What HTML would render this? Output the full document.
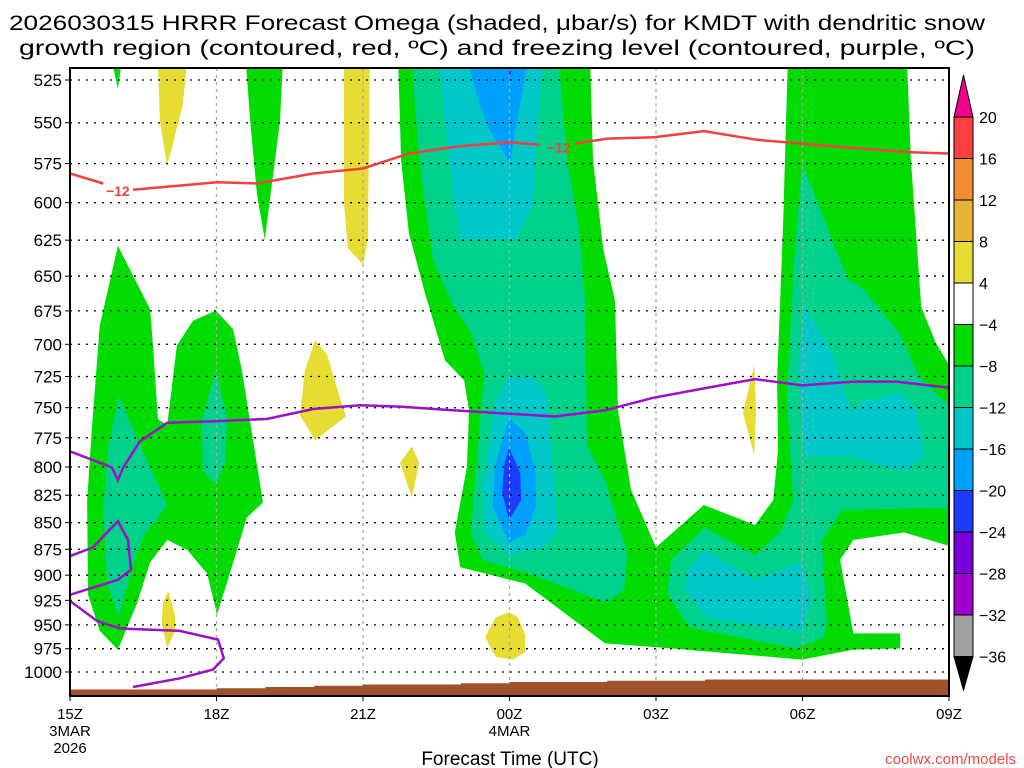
<!DOCTYPE html>
<html><head><meta charset="utf-8"><style>
html,body{margin:0;padding:0;background:#fff;}
svg{display:block;font-family:"Liberation Sans",sans-serif;}
</style></head><body>
<svg id="chart" width="1024" height="768" viewBox="0 0 1024 768" xmlns="http://www.w3.org/2000/svg">
<text x="497" y="30" font-size="21" text-anchor="middle" textLength="976" lengthAdjust="spacingAndGlyphs">2026030315 HRRR Forecast Omega (shaded, μbar/s) for KMDT with dendritic snow</text>
<text x="497" y="55" font-size="21" text-anchor="middle" textLength="956" lengthAdjust="spacingAndGlyphs">growth region (contoured, red, ºC) and freezing level (contoured, purple, ºC)</text>
<defs><clipPath id="plotclip"><rect x="70" y="68" width="879" height="628"/></clipPath></defs>
<g id="plot" clip-path="url(#plotclip)"></g>
<g id="axes"></g>
<g id="colorbar"></g>
<text x="510" y="765" font-size="19" text-anchor="middle">Forecast Time (UTC)</text>
<text x="1016" y="764" font-size="15" text-anchor="end" fill="#f04848">coolwx.com/models</text>
</svg>
<script>
// ---- data (hour since 15Z; vertical coordinate in "linear-estimate" hPa, mapped to true hPa below) ----
const pressureTicks = [525,550,575,600,625,650,675,700,725,750,775,800,825,850,875,900,925,950,975,1000];
const hourTicks = [0,3,6,9,12,15,18];
const hourLabels = ["15Z","18Z","21Z","00Z","03Z","06Z","09Z"];
const dateLabels = {0:["3MAR","2026"],9:["4MAR"]};
const levelValues = [20,16,12,8,4,-4,-8,-12,-16,-20,-24,-28,-32,-36];
const levelColors = ["#fa4040","#f08c32","#e6b432","#e6dc32","#ffffff","#00dc00","#00d28c","#00c8c8","#00a0ff","#1e3cff","#7800dc","#a000c8","#a0a0a0"];
const surfacePressure = [1014,1014,1014,1013,1012,1011,1010,1010,1009,1008,1008,1007,1007,1006,1006,1006,1006,1006,1006];
const greenLeft = [[0.98,658],[1.64,709],[1.70,738],[1.80,797],[1.99,802],[2.19,738],[2.52,718],[2.99,710],[3.34,725],[3.52,758],[3.89,849],[3.95,864],[3.62,876],[3.42,902],[3.01,954],[2.81,921],[2.40,902],[1.99,894],[1.64,912],[1.37,945],[0.98,982],[0.61,967],[0.37,938],[0.35,863],[0.45,803],[0.61,722]];
const tealLeft = [[1.00,779],[1.99,866],[1.49,892],[1.27,915],[1.00,956],[0.76,928],[0.68,869],[0.78,820]];
const teal18z = [[2.99,758],[3.22,797],[3.17,833],[2.99,849],[2.72,839],[2.70,797]];
const yellowTopLeft = [[1.80,510],[2.40,510],[2.31,545],[1.99,594],[1.84,558]];
const greenSpike1 = [[0.86,510],[1.06,510],[0.98,532]];
const greenSpike19z = [[3.60,510],[4.36,510],[4.30,558],[3.99,653],[3.83,617],[3.69,558]];
const yellow21z = [[5.61,510],[6.14,510],[6.10,653],[6.00,673],[5.69,660],[5.61,624]];
const yellow20z = [[5.02,734],[5.26,745],[5.49,775],[5.65,795],[5.02,814],[4.71,794],[4.81,758]];
const yellowSmallLeft = [[2.01,935],[2.15,954],[2.15,967],[1.99,981],[1.88,961],[1.90,945]];
const greenMain = [[6.72,510],[6.78,589],[6.94,648],[7.27,696],[7.68,750],[8.07,766],[8.17,790],[8.13,835],[7.88,888],[7.99,916],[9.32,929],[10.96,977],[12.00,980],[14.99,990],[16.04,982],[17.00,981],[17.00,969],[16.04,969],[15.77,910],[16.04,894],[17.08,888],[18.1,900],[18.1,760],[17.73,736],[17.43,707],[17.22,589],[17.14,510],[14.70,510],[14.60,643],[14.48,766],[14.50,822],[14.40,862],[14.03,882],[12.98,866],[12.00,900],[11.49,854],[11.22,790],[11.16,702],[10.92,661],[10.71,589],[10.65,510]];
const tealCentral = [[7.00,510],[7.15,589],[7.43,669],[7.84,706],[8.19,726],[8.48,760],[8.21,888],[8.44,910],[9.32,920],[10.96,944],[11.35,934],[11.41,905],[10.96,846],[10.59,819],[10.55,702],[10.42,643],[10.18,589],[10.01,510]];
const cyanTop = [[7.56,510],[7.76,589],[7.90,629],[7.99,653],[9.13,653],[9.50,624],[9.52,589],[9.69,510]];
const blueTop = [[8.15,510],[9.38,510],[9.13,563],[9.01,592],[8.56,563],[8.31,535]];
const darkBlueTop = [[8.95,510],[9.05,510],[9.01,525]];
const cyanCentral = [[8.99,763],[9.54,764],[9.77,779],[9.99,888],[9.71,900],[8.99,906],[8.50,888],[8.44,852],[8.72,782]];
const blueCentral = [[8.99,796],[9.32,808],[9.54,840],[9.54,868],[9.32,890],[8.99,896],[8.66,868],[8.70,835]];
const darkBlueCentral = [[8.99,820],[9.22,840],[9.24,862],[8.99,878],[8.85,856],[8.89,835]];
const tealRight = [[14.99,592],[14.83,669],[14.70,766],[14.68,779],[14.81,862],[14.54,888],[14.03,906],[13.00,884],[12.31,910],[12.23,937],[12.68,964],[14.85,981],[15.44,972],[15.50,961],[15.40,894],[15.81,870],[18.1,868],[18.1,790],[17.39,763],[16.98,728],[16.26,693],[15.93,685]];
const cyanLowerMid = [[13.00,902],[14.03,926],[14.99,912],[15.17,942],[14.99,968],[13.04,956],[12.59,934],[12.68,916]];
const cyanRight = [[15.03,707],[15.58,742],[15.99,790],[16.18,784],[17.00,776],[17.33,790],[17.49,827],[17.08,839],[16.04,827],[15.03,827],[14.91,755]];
const yellow05z = [[14.01,754],[14.05,790],[14.01,826],[13.78,792]];
const yellow22z = [[7.00,819],[7.15,832],[7.00,860],[6.76,832]];
const yellow00z = [[8.99,952],[9.17,956],[9.32,970],[9.32,984],[9.07,990],[8.72,988],[8.50,972],[8.72,956]];
const freezingLineA = [[0,823],[0.68,833],[0.86,836],[0.98,846],[1.09,836],[1.43,815],[1.99,800],[2.81,799],[4.03,797],[4.98,789],[5.94,786],[6.76,787],[7.84,790],[9.93,795],[10.96,790],[11.94,780],[13.04,772],[14.03,765],[14.99,770],[16.04,767],[16.92,767],[18.02,772]];
const freezingLineB = [[0,907],[0.47,900],[0.76,888],[0.98,879],[1.19,894],[1.25,918],[0.98,926],[0,938]];
const freezingLineC = [[0,943],[0.55,959],[1.02,965],[2.25,967],[3.03,974],[3.15,989],[2.93,998],[2.25,1005],[1.29,1012]];
const dgzSeg1 = [[0,600],[0.68,608]];
const dgzSeg2 = [[1.29,613],[3.01,607],[3.83,608],[4.98,600],[6.0,596],[6.94,584],[7.99,578],[9.01,575],[9.61,577]];
const dgzSeg3 = [[10.34,576],[11.0,572],[11.96,571],[12.98,566],[14.07,573],[15.85,579],[17.22,583],[18.02,584]];
const dgzLabels = [[0.98,614],[10.01,579]];

// estimates were read on a linear scale; map them to true (log-axis) pressure
function toHpa(pl){return 525*Math.exp((pl-525)*1.2464/918.7);}

// ---- axis functions (log-pressure) ----
const X0=70, X1=949, Y525=80, LOGK=918.7;
function xs(h){return X0 + h*(X1-X0)/18;}
function ys(p){return Y525 + LOGK*Math.log(p/525);}
function yl(pl){return ys(toHpa(pl));}
const NS="http://www.w3.org/2000/svg";
function mk(tag,attrs,parent){const e=document.createElementNS(NS,tag);for(const k in attrs)e.setAttribute(k,attrs[k]);parent.appendChild(e);return e;}
const plot=document.getElementById('plot'), axes=document.getElementById('axes'), cb=document.getElementById('colorbar');
function pts(arr){return arr.map(v=>xs(v[0]).toFixed(1)+','+yl(v[1]).toFixed(1)).join(' ');}

const regions = [
 [greenLeft,5,'omega-region-left-green'],[tealLeft,6,'omega-region-left-teal'],[teal18z,6,'omega-region-18z-teal'],
 [yellowTopLeft,3,'omega-region-yellow-topleft'],[greenSpike1,5,'omega-region-green-spike'],[greenSpike19z,5,'omega-region-green-19z'],
 [yellow21z,3,'omega-region-yellow-21z'],[yellow20z,3,'omega-region-yellow-20z'],[yellowSmallLeft,3,'omega-region-yellow-small'],
 [greenMain,5,'omega-region-main-green'],[tealCentral,6,'omega-region-central-teal'],[cyanTop,7,'omega-region-top-cyan'],
 [blueTop,8,'omega-region-top-blue'],[darkBlueTop,9,'omega-region-top-darkblue'],[cyanCentral,7,'omega-region-central-cyan'],
 [blueCentral,8,'omega-region-central-blue'],[darkBlueCentral,9,'omega-region-central-darkblue'],[tealRight,6,'omega-region-right-teal'],
 [cyanLowerMid,7,'omega-region-lowermid-cyan'],[cyanRight,7,'omega-region-right-cyan'],[yellow05z,3,'omega-region-yellow-05z'],
 [yellow22z,3,'omega-region-yellow-22z'],[yellow00z,3,'omega-region-yellow-00z']
];
regions.forEach(r=>{
  const el=mk('polygon',{points:pts(r[0]),fill:levelColors[r[1]]},plot);
  
  
});

pressureTicks.forEach(p=>{
  const l=mk('line',{x1:X0,x2:X1,y1:ys(p),y2:ys(p),stroke:'#000','stroke-width':1.3,'stroke-dasharray':'2,6'},plot);
  
  
});
hourTicks.forEach(h=>{
  const l=mk('line',{x1:xs(h),x2:xs(h),y1:68,y2:696,stroke:'#aaa','stroke-width':1.3,'stroke-dasharray':'3,4'},plot);
  
  
});

let gpts=[[xs(0),700]];
surfacePressure.forEach((p,i)=>{gpts.push([xs(i),yl(p)]);gpts.push([xs(i+1),yl(p)]);});
gpts.push([xs(19),700]);
const ground=mk('polygon',{points:gpts.map(v=>v[0]+','+v[1]).join(' '),fill:'#a0522d'},plot);



[[freezingLineA,'freezing-level-line-a'],[freezingLineB,'freezing-level-line-b'],[freezingLineC,'freezing-level-line-c']].forEach(r=>{
  const l=mk('polyline',{points:pts(r[0]),fill:'none',stroke:'#9c10c8','stroke-width':2.5},plot);
  
  
});
[dgzSeg1,dgzSeg2,dgzSeg3].forEach(s=>{
  const l=mk('polyline',{points:pts(s),fill:'none',stroke:'#f04040','stroke-width':2.5},plot);
  
  
});
dgzLabels.forEach(d=>{
  const t=mk('text',{x:xs(d[0]),y:yl(d[1])+5,'font-size':14,'font-weight':'bold',fill:'#f04040','text-anchor':'middle'},plot);
  t.textContent='−12';
  
  
});

const fr=mk('rect',{x:X0,y:68,width:X1-X0,height:628,fill:'none',stroke:'#000','stroke-width':2},axes);


pressureTicks.forEach(p=>{
  const t=mk('text',{x:62,y:ys(p)+6,'font-size':17,'text-anchor':'end'},axes);
  t.textContent=p;
  
  
  mk('line',{x1:X0-5,x2:X0,y1:ys(p),y2:ys(p),stroke:'#000'},axes);
});
hourTicks.forEach((h,i)=>{
  const t=mk('text',{x:xs(h),y:719,'font-size':15,'text-anchor':'middle'},axes);
  t.textContent=hourLabels[i];
  
  
  mk('line',{x1:xs(h),x2:xs(h),y1:696,y2:701,stroke:'#000'},axes);
  (dateLabels[h]||[]).forEach((d,j)=>{
    const dt=mk('text',{x:xs(h),y:736+j*17,'font-size':15,'text-anchor':'middle'},axes);
    dt.textContent=d;
    
    
  });
});

const CBX=954, CBW=19, CBTOP=117, SEG=41.5;
function cby(i){return CBTOP+i*SEG;}
const topTri=mk('polygon',{points:`${CBX},${CBTOP} ${CBX+CBW},${CBTOP} ${CBX+CBW/2},75`,fill:'#f0008c',stroke:'#000'},cb);


levelColors.forEach((c,i)=>{
  const r=mk('rect',{x:CBX,y:cby(i),width:CBW,height:SEG,fill:c,stroke:'#000','stroke-width':1},cb);
  
  
});
const botTri=mk('polygon',{points:`${CBX},${cby(13)} ${CBX+CBW},${cby(13)} ${CBX+CBW/2},690`,fill:'#000',stroke:'#000'},cb);


levelValues.forEach((v,i)=>{
  const t=mk('text',{x:979,y:cby(i)+6,'font-size':16},cb);
  t.textContent=v<0?'−'+(-v):String(v);
  
  
});
</script>
</body></html>
